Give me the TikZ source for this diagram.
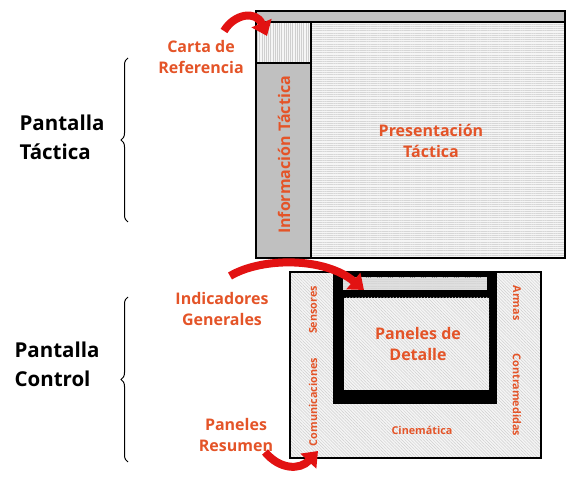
\documentclass[tikz,border=0pt]{standalone}
\usepackage{fontspec}
\setmainfont{Open Sans}
\usetikzlibrary{arrows.meta,patterns.meta,decorations.pathreplacing}
\definecolor{lbl}{RGB}{228,84,40}
\definecolor{arrred}{RGB}{226,18,18}
\definecolor{bargray}{RGB}{192,192,192}
\tikzset{
  frame/.style={draw=black,line width=1.2pt},
  vhatch/.style={preaction={fill=gray!8},pattern={Lines[angle=90,distance=2.2pt,line width=0.5pt]},pattern color=gray!38},
  hhatch/.style={preaction={fill=gray!8},pattern={Lines[angle=0,distance=2.2pt,line width=0.5pt]},pattern color=gray!32},
  dhatch/.style={preaction={fill=gray!8},pattern={Lines[angle=-45,distance=2.2pt,line width=0.5pt]},pattern color=gray!38},
  lab/.style={text=lbl,font=\bfseries\fontsize{16}{20.5}\selectfont,align=center,inner sep=0pt},
  biglab/.style={text=black,font=\bfseries\fontsize{20.5}{29}\selectfont,align=left,inner sep=0pt},
  smalllab/.style={text=lbl,font=\bfseries\fontsize{10.8}{12}\selectfont,inner sep=0pt},
  bigarrow/.style={draw=arrred,line width=8pt,-{Triangle[width=21pt,length=14pt]}},
  bracestyle/.style={decorate,decoration={brace,amplitude=7pt},line width=1pt}
}
\begin{document}
\begin{tikzpicture}[x=1pt,y=-1pt]
\useasboundingbox (0,0) rectangle (579,486);
% ---- top panel ----
\path[frame,fill=bargray] (256,11) rectangle (565,22);
\path[frame,vhatch] (256,22) rectangle (311,63);
\path[frame,fill=bargray] (256,63) rectangle (311,258);
\path[frame,hhatch] (311,22) rectangle (565,258);
\node[lab] (pres) at (431,141) {Presentación\\Táctica};
\node[lab,rotate=90] (info) at (284,155) {Información Táctica};
\node[lab] (carta) at (201,57) {Carta de\\Referencia};
% ---- bottom panel ----
\path[frame,dhatch] (290,272) rectangle (541,458);
\fill[black] (333,272) rectangle (497,404);
\path[hhatch,preaction={fill=gray!25}] (343,278) rectangle (487,290);
\path[dhatch] (344,298) rectangle (489,390);
\node[lab] (det) at (418,344) {Paneles de\\Detalle};
\node[smalllab,rotate=90] (sens) at (313,310) {Sensores};
\node[smalllab,rotate=90] (comu) at (313,402) {Comunicaciones};
\node[smalllab,rotate=-90] (armas) at (517,303) {Armas};
\node[smalllab,rotate=-90] (contra) at (517,395) {Contramedidas};
\node[smalllab] (cine) at (422,430) {Cinemática};
\node[lab] (ind) at (222,309) {Indicadores\\Generales};
\node[lab] (res) at (236,435) {Paneles\\Resumen};
% ---- left labels and braces ----
\node[biglab] (pt) at (62,137) {Pantalla\\Táctica};
\node[biglab] (pc) at (57,364) {Pantalla\\Control};
\coordinate (b1s) at (128,222);
\coordinate (b1e) at (128,58);
\coordinate (b2s) at (128,462);
\coordinate (b2e) at (128,297);
\draw[bracestyle] (b1s) -- (b1e);
\draw[bracestyle] (b2s) -- (b2e);
% ---- red arrows ----
\coordinate (a1s) at (224,31);
\coordinate (a1e) at (267,36);
\coordinate (a2s) at (230,276);
\coordinate (a2e) at (364,290);
\coordinate (a3s) at (265,452);
\coordinate (a3e) at (318,451);
\draw[bigarrow] (a1s) .. controls (234,14) and (256,10) .. (a1e);
\draw[bigarrow] (a2s) .. controls (262,257) and (325,257) .. (a2e);
\draw[bigarrow] (a3s) .. controls (280,470) and (300,470) .. (a3e);
\end{tikzpicture}
\end{document}
